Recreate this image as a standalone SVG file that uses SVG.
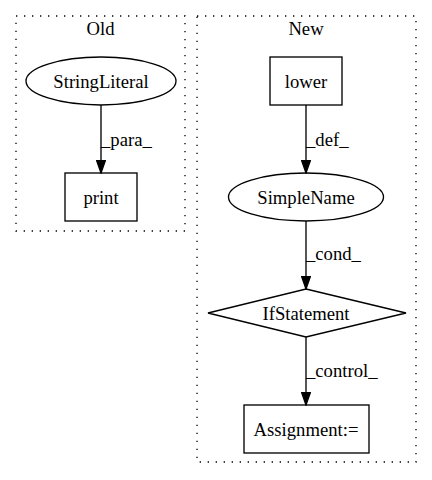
<svg xmlns="http://www.w3.org/2000/svg" width="432" height="480" viewBox="0 0 432 480" font-family="'Liberation Serif', 'Times New Roman', Times, serif" font-size="18.67">
<style>
text{font-family:'Liberation Serif','Times New Roman',Times,serif;font-size:18.67px;fill:#000}
.n{fill:none;stroke:#000;stroke-width:1.33}
.c{fill:none;stroke:#000;stroke-width:1.33;stroke-dasharray:1.33,6.67}
.e{fill:none;stroke:#000;stroke-width:1.33}
.mid{text-anchor:middle}
</style>
<defs>
<marker id="ah" markerWidth="14" markerHeight="10" refX="13.3" refY="5" orient="auto" markerUnits="userSpaceOnUse">
<path d="M0,0.33 L13.3,5 L0,9.67 Z" fill="#000" stroke="#000" stroke-width="1.33"/>
</marker>
</defs>
<rect width="432" height="480" fill="#fff"/>
<g id="cluster_old">
<rect class="c" x="16" y="16" width="169" height="215"/>
<text class="mid" x="100.5" y="35">Old</text>
</g>
<g id="cluster_new">
<rect class="c" x="197" y="16" width="219" height="446"/>
<text class="mid" x="306" y="35">New</text>
</g>
<g id="StringLiteral">
<ellipse class="n" cx="101" cy="81" rx="75" ry="24"/>
<text class="mid" x="101" y="87.5">StringLiteral</text>
</g>
<g id="print">
<rect class="n" x="65" y="173" width="72" height="48"/>
<text class="mid" x="101" y="203.5">print</text>
</g>
<g id="lower">
<rect class="n" x="270" y="57" width="72" height="48"/>
<text class="mid" x="306" y="87.5">lower</text>
</g>
<g id="SimpleName">
<ellipse class="n" cx="306" cy="197" rx="77.5" ry="24"/>
<text class="mid" x="306" y="203.5">SimpleName</text>
</g>
<g id="IfStatement">
<polygon class="n" points="306,289 406,313 306,337 208,313"/>
<text class="mid" x="306" y="319.5">IfStatement</text>
</g>
<g id="Assignment">
<rect class="n" x="244" y="405" width="125" height="48"/>
<text class="mid" x="306" y="435.5">Assignment:=</text>
</g>
<g id="edges">
<line class="e" x1="101" y1="105" x2="101" y2="173" marker-end="url(#ah)"/>
<text x="101" y="146">_para_</text>
<line class="e" x1="306" y1="105" x2="306" y2="173" marker-end="url(#ah)"/>
<text x="306" y="146">_def_</text>
<line class="e" x1="306" y1="221" x2="306" y2="289" marker-end="url(#ah)"/>
<text x="306" y="260">_cond_</text>
<line class="e" x1="306" y1="337" x2="306" y2="405" marker-end="url(#ah)"/>
<text x="306" y="377">_control_</text>
</g>
</svg>
